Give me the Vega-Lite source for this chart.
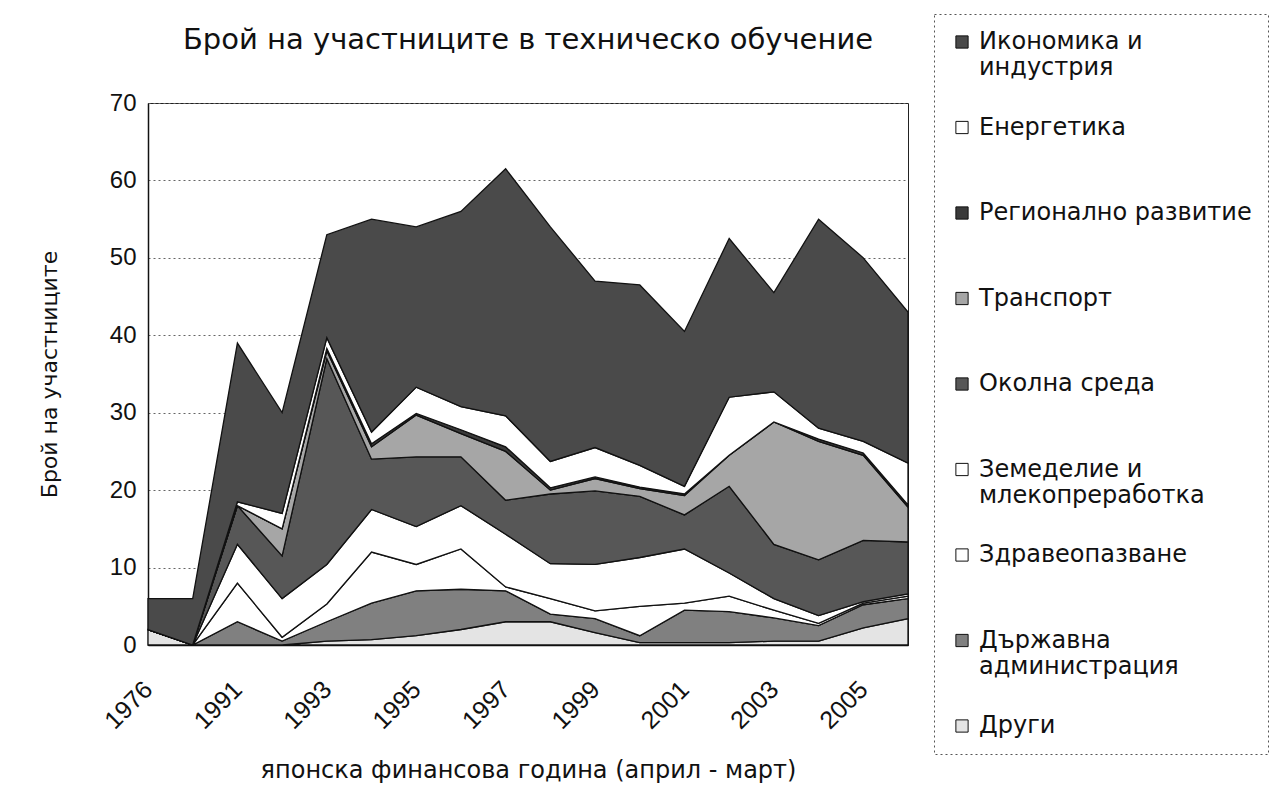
{
  "$schema": "https://vega.github.io/schema/vega-lite/v6.json",
  "width": 760,
  "height": 542,
  "autosize": {"type": "none"},
  "padding": {"left": 148, "top": 103, "right": 361, "bottom": 153},
  "background": "white",
  "config": {
    "font": "DejaVu Sans",
    "view": {"stroke": "#222", "strokeWidth": 1}
  },
  "title": {
    "text": "Брой на участниците в техническо обучение",
    "fontSize": 29,
    "fontWeight": "normal",
    "font": "DejaVu Sans",
    "color": "#111",
    "anchor": "middle",
    "frame": "group",
    "offset": -41
  },
  "data": {
    "values": [
      {"g":"1976","n":0,"s":"Други","v":2},{"g":"1976","n":1,"s":"Държавна администрация","v":0},{"g":"1976","n":2,"s":"Здравеопазване","v":0},{"g":"1976","n":3,"s":"Земеделие и млекопреработка","v":0},{"g":"1976","n":4,"s":"Околна среда","v":0},{"g":"1976","n":5,"s":"Транспорт","v":0},{"g":"1976","n":6,"s":"Регионално развитие","v":0},{"g":"1976","n":7,"s":"Енергетика","v":0},{"g":"1976","n":8,"s":"Икономика и индустрия","v":4},
      {"g":"1990","n":0,"s":"Други","v":0},{"g":"1990","n":1,"s":"Държавна администрация","v":0},{"g":"1990","n":2,"s":"Здравеопазване","v":0},{"g":"1990","n":3,"s":"Земеделие и млекопреработка","v":0},{"g":"1990","n":4,"s":"Околна среда","v":0},{"g":"1990","n":5,"s":"Транспорт","v":0},{"g":"1990","n":6,"s":"Регионално развитие","v":0},{"g":"1990","n":7,"s":"Енергетика","v":0},{"g":"1990","n":8,"s":"Икономика и индустрия","v":6},
      {"g":"1991","n":0,"s":"Други","v":0},{"g":"1991","n":1,"s":"Държавна администрация","v":3},{"g":"1991","n":2,"s":"Здравеопазване","v":5},{"g":"1991","n":3,"s":"Земеделие и млекопреработка","v":5},{"g":"1991","n":4,"s":"Околна среда","v":5},{"g":"1991","n":5,"s":"Транспорт","v":0},{"g":"1991","n":6,"s":"Регионално развитие","v":0},{"g":"1991","n":7,"s":"Енергетика","v":0.5},{"g":"1991","n":8,"s":"Икономика и индустрия","v":20.5},
      {"g":"1992","n":0,"s":"Други","v":0},{"g":"1992","n":1,"s":"Държавна администрация","v":0.5},{"g":"1992","n":2,"s":"Здравеопазване","v":0.5},{"g":"1992","n":3,"s":"Земеделие и млекопреработка","v":5},{"g":"1992","n":4,"s":"Околна среда","v":5.5},{"g":"1992","n":5,"s":"Транспорт","v":3.5},{"g":"1992","n":6,"s":"Регионално развитие","v":0},{"g":"1992","n":7,"s":"Енергетика","v":2},{"g":"1992","n":8,"s":"Икономика и индустрия","v":13},
      {"g":"1993","n":0,"s":"Други","v":0.5},{"g":"1993","n":1,"s":"Държавна администрация","v":2.5},{"g":"1993","n":2,"s":"Здравеопазване","v":2.3},{"g":"1993","n":3,"s":"Земеделие и млекопреработка","v":5.1},{"g":"1993","n":4,"s":"Околна среда","v":26.6},{"g":"1993","n":5,"s":"Транспорт","v":1},{"g":"1993","n":6,"s":"Регионално развитие","v":0.3},{"g":"1993","n":7,"s":"Енергетика","v":1.4},{"g":"1993","n":8,"s":"Икономика и индустрия","v":13.3},
      {"g":"1994","n":0,"s":"Други","v":0.7},{"g":"1994","n":1,"s":"Държавна администрация","v":4.7},{"g":"1994","n":2,"s":"Здравеопазване","v":6.6},{"g":"1994","n":3,"s":"Земеделие и млекопреработка","v":5.5},{"g":"1994","n":4,"s":"Околна среда","v":6.5},{"g":"1994","n":5,"s":"Транспорт","v":1.6},{"g":"1994","n":6,"s":"Регионално развитие","v":0.4},{"g":"1994","n":7,"s":"Енергетика","v":1.5},{"g":"1994","n":8,"s":"Икономика и индустрия","v":27.5},
      {"g":"1995","n":0,"s":"Други","v":1.2},{"g":"1995","n":1,"s":"Държавна администрация","v":5.8},{"g":"1995","n":2,"s":"Здравеопазване","v":3.4},{"g":"1995","n":3,"s":"Земеделие и млекопреработка","v":4.9},{"g":"1995","n":4,"s":"Околна среда","v":9},{"g":"1995","n":5,"s":"Транспорт","v":5.4},{"g":"1995","n":6,"s":"Регионално развитие","v":0.2},{"g":"1995","n":7,"s":"Енергетика","v":3.4},{"g":"1995","n":8,"s":"Икономика и индустрия","v":20.7},
      {"g":"1996","n":0,"s":"Други","v":2},{"g":"1996","n":1,"s":"Държавна администрация","v":5.2},{"g":"1996","n":2,"s":"Здравеопазване","v":5.2},{"g":"1996","n":3,"s":"Земеделие и млекопреработка","v":5.6},{"g":"1996","n":4,"s":"Околна среда","v":6.3},{"g":"1996","n":5,"s":"Транспорт","v":3},{"g":"1996","n":6,"s":"Регионално развитие","v":0.5},{"g":"1996","n":7,"s":"Енергетика","v":3},{"g":"1996","n":8,"s":"Икономика и индустрия","v":25.2},
      {"g":"1997","n":0,"s":"Други","v":3},{"g":"1997","n":1,"s":"Държавна администрация","v":4},{"g":"1997","n":2,"s":"Здравеопазване","v":0.5},{"g":"1997","n":3,"s":"Земеделие и млекопреработка","v":6.8},{"g":"1997","n":4,"s":"Околна среда","v":4.4},{"g":"1997","n":5,"s":"Транспорт","v":6.3},{"g":"1997","n":6,"s":"Регионално развитие","v":0.6},{"g":"1997","n":7,"s":"Енергетика","v":4},{"g":"1997","n":8,"s":"Икономика и индустрия","v":31.9},
      {"g":"1998","n":0,"s":"Други","v":3},{"g":"1998","n":1,"s":"Държавна администрация","v":1},{"g":"1998","n":2,"s":"Здравеопазване","v":2},{"g":"1998","n":3,"s":"Земеделие и млекопреработка","v":4.5},{"g":"1998","n":4,"s":"Околна среда","v":9},{"g":"1998","n":5,"s":"Транспорт","v":0.5},{"g":"1998","n":6,"s":"Регионално развитие","v":0.3},{"g":"1998","n":7,"s":"Енергетика","v":3.4},{"g":"1998","n":8,"s":"Икономика и индустрия","v":30.3},
      {"g":"1999","n":0,"s":"Други","v":1.6},{"g":"1999","n":1,"s":"Държавна администрация","v":1.8},{"g":"1999","n":2,"s":"Здравеопазване","v":1},{"g":"1999","n":3,"s":"Земеделие и млекопреработка","v":6},{"g":"1999","n":4,"s":"Околна среда","v":9.5},{"g":"1999","n":5,"s":"Транспорт","v":1.6},{"g":"1999","n":6,"s":"Регионално развитие","v":0.2},{"g":"1999","n":7,"s":"Енергетика","v":3.8},{"g":"1999","n":8,"s":"Икономика и индустрия","v":21.5},
      {"g":"2000","n":0,"s":"Други","v":0.3},{"g":"2000","n":1,"s":"Държавна администрация","v":0.9},{"g":"2000","n":2,"s":"Здравеопазване","v":3.8},{"g":"2000","n":3,"s":"Земеделие и млекопреработка","v":6.3},{"g":"2000","n":4,"s":"Околна среда","v":7.9},{"g":"2000","n":5,"s":"Транспорт","v":1},{"g":"2000","n":6,"s":"Регионално развитие","v":0.2},{"g":"2000","n":7,"s":"Енергетика","v":2.8},{"g":"2000","n":8,"s":"Икономика и индустрия","v":23.3},
      {"g":"2001","n":0,"s":"Други","v":0.3},{"g":"2001","n":1,"s":"Държавна администрация","v":4.2},{"g":"2001","n":2,"s":"Здравеопазване","v":0.9},{"g":"2001","n":3,"s":"Земеделие и млекопреработка","v":7},{"g":"2001","n":4,"s":"Околна среда","v":4.4},{"g":"2001","n":5,"s":"Транспорт","v":2.5},{"g":"2001","n":6,"s":"Регионално развитие","v":0.2},{"g":"2001","n":7,"s":"Енергетика","v":1},{"g":"2001","n":8,"s":"Икономика и индустрия","v":20},
      {"g":"2002","n":0,"s":"Други","v":0.3},{"g":"2002","n":1,"s":"Държавна администрация","v":4},{"g":"2002","n":2,"s":"Здравеопазване","v":2},{"g":"2002","n":3,"s":"Земеделие и млекопреработка","v":3},{"g":"2002","n":4,"s":"Околна среда","v":11.2},{"g":"2002","n":5,"s":"Транспорт","v":4},{"g":"2002","n":6,"s":"Регионално развитие","v":0},{"g":"2002","n":7,"s":"Енергетика","v":7.5},{"g":"2002","n":8,"s":"Икономика и индустрия","v":20.5},
      {"g":"2003","n":0,"s":"Други","v":0.5},{"g":"2003","n":1,"s":"Държавна администрация","v":3},{"g":"2003","n":2,"s":"Здравеопазване","v":1},{"g":"2003","n":3,"s":"Земеделие и млекопреработка","v":1.5},{"g":"2003","n":4,"s":"Околна среда","v":7},{"g":"2003","n":5,"s":"Транспорт","v":15.8},{"g":"2003","n":6,"s":"Регионално развитие","v":0},{"g":"2003","n":7,"s":"Енергетика","v":3.9},{"g":"2003","n":8,"s":"Икономика и индустрия","v":12.8},
      {"g":"2004","n":0,"s":"Други","v":0.5},{"g":"2004","n":1,"s":"Държавна администрация","v":2},{"g":"2004","n":2,"s":"Здравеопазване","v":0.3},{"g":"2004","n":3,"s":"Земеделие и млекопреработка","v":1},{"g":"2004","n":4,"s":"Околна среда","v":7.2},{"g":"2004","n":5,"s":"Транспорт","v":15.3},{"g":"2004","n":6,"s":"Регионално развитие","v":0.3},{"g":"2004","n":7,"s":"Енергетика","v":1.4},{"g":"2004","n":8,"s":"Икономика и индустрия","v":27},
      {"g":"2005","n":0,"s":"Други","v":2.2},{"g":"2005","n":1,"s":"Държавна администрация","v":3},{"g":"2005","n":2,"s":"Здравеопазване","v":0.2},{"g":"2005","n":3,"s":"Земеделие и млекопреработка","v":0.2},{"g":"2005","n":4,"s":"Околна среда","v":7.9},{"g":"2005","n":5,"s":"Транспорт","v":11},{"g":"2005","n":6,"s":"Регионално развитие","v":0.3},{"g":"2005","n":7,"s":"Енергетика","v":1.5},{"g":"2005","n":8,"s":"Икономика и индустрия","v":23.7},
      {"g":"2006","n":0,"s":"Други","v":3.4},{"g":"2006","n":1,"s":"Държавна администрация","v":2.6},{"g":"2006","n":2,"s":"Здравеопазване","v":0.3},{"g":"2006","n":3,"s":"Земеделие и млекопреработка","v":0.3},{"g":"2006","n":4,"s":"Околна среда","v":6.7},{"g":"2006","n":5,"s":"Транспорт","v":4.5},{"g":"2006","n":6,"s":"Регионално развитие","v":0.3},{"g":"2006","n":7,"s":"Енергетика","v":5.4},{"g":"2006","n":8,"s":"Икономика и индустрия","v":19.5}
    ]
  },
  "mark": {"type": "area", "stroke": "#111", "strokeWidth": 1.3, "strokeJoin": "miter", "opacity": 1},
  "encoding": {
    "x": {
      "field": "g",
      "type": "ordinal",
      "scale": {"type": "point", "padding": 0},
      "axis": {
        "title": "японска финансова година (април - март)",
        "titleFont": "DejaVu Sans",
        "titleFontSize": 24,
        "titleFontWeight": "normal",
        "titleColor": "#111",
        "titleY": 125,
        "titleBaseline": "middle",
        "values": ["1976","1991","1993","1995","1997","1999","2001","2003","2005"],
        "labelAngle": -45,
        "labelAlign": "right",
        "labelBaseline": "middle",
        "labelFont": "Liberation Sans",
        "labelFontSize": 25,
        "labelColor": "#111",
        "labelPadding": 40,
        "ticks": false,
        "domainColor": "#111",
        "domainWidth": 1.5,
        "grid": false
      }
    },
    "y": {
      "field": "v",
      "type": "quantitative",
      "stack": "zero",
      "scale": {"domain": [0, 70], "nice": false},
      "axis": {
        "title": "Брой на участниците",
        "titleFont": "DejaVu Sans",
        "titleFontSize": 22,
        "titleFontWeight": "normal",
        "titleColor": "#111",
        "titlePadding": 48,
        "values": [0,10,20,30,40,50,60,70],
        "labelFont": "Liberation Sans",
        "labelFontSize": 24,
        "labelColor": "#111",
        "labelPadding": 12,
        "ticks": false,
        "domainColor": "#111",
        "domainWidth": 1.5,
        "grid": true,
        "gridColor": "#666",
        "gridDash": [2, 3],
        "gridWidth": 1
      }
    },
    "color": {
      "field": "s",
      "type": "nominal",
      "sort": ["Икономика и индустрия","Енергетика","Регионално развитие","Транспорт","Околна среда","Земеделие и млекопреработка","Здравеопазване","Държавна администрация","Други"],
      "scale": {
        "domain": ["Икономика и индустрия","Енергетика","Регионално развитие","Транспорт","Околна среда","Земеделие и млекопреработка","Здравеопазване","Държавна администрация","Други"],
        "range": ["#4a4a4a","#ffffff","#3a3a3a","#a6a6a6","#575757","#ffffff","#ffffff","#808080","#e4e4e4"]
      },
      "legend": {
        "title": null,
        "orient": "none",
        "legendX": 786,
        "legendY": -89,
        "padding": 16,
        "strokeColor": "#555",
        "symbolType": "square",
        "symbolSize": 150,
        "symbolStrokeColor": "#111",
        "symbolStrokeWidth": 1,
        "symbolOpacity": 1,
        "labelFont": "DejaVu Sans",
        "labelFontSize": 24,
        "labelColor": "#111",
        "labelLimit": 400,
        "labelOffset": 5,
        "labelBaseline": "middle",
        "gridAlign": "all",
        "rowPadding": 35.5,
        "labelExpr": "datum.label == 'Икономика и индустрия' ? ['Икономика и', 'индустрия'] : datum.label == 'Земеделие и млекопреработка' ? ['Земеделие и', 'млекопреработка'] : datum.label == 'Държавна администрация' ? ['Държавна', 'администрация'] : datum.label",
        "encode": {"legend": {"update": {"strokeDash": {"value": [2, 3]}}}}
      }
    },
    "order": {"field": "n", "type": "quantitative", "sort": "ascending"}
  }
}
